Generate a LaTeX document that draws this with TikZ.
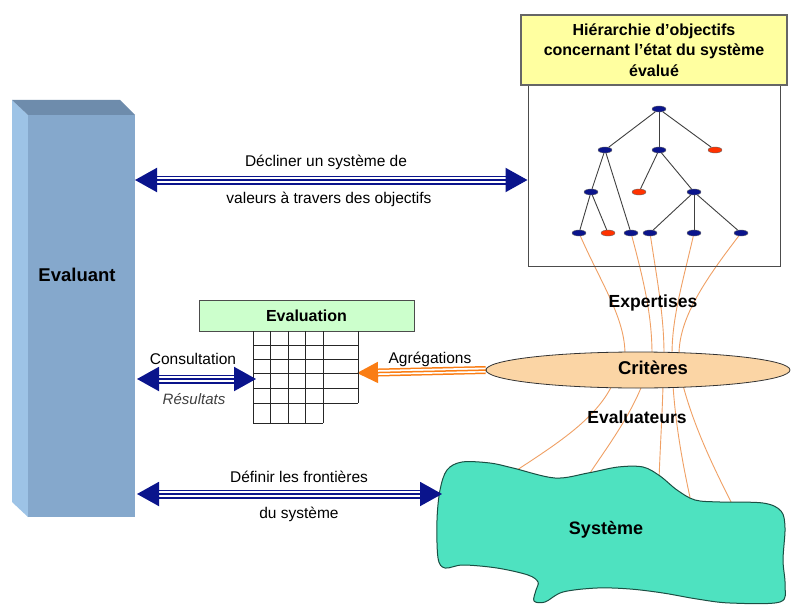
\documentclass[tikz,border=0pt]{standalone}
\usepackage{fontspec}
\setmainfont{Liberation Sans}
\usetikzlibrary{arrows.meta,shapes.geometric}
\pgfdeclarelayer{bglayer}
\pgfdeclarelayer{linelayer}
\pgfsetlayers{bglayer,linelayer,main}
\definecolor{navyb}{RGB}{10,20,140}
\definecolor{redn}{RGB}{255,50,0}
\definecolor{olin}{RGB}{240,160,100}
\definecolor{orgA}{RGB}{250,125,20}
\definecolor{evfrontc}{RGB}{133,168,204}
\definecolor{evleftc}{RGB}{157,195,230}
\definecolor{evtopc}{RGB}{110,140,172}
\definecolor{hdryel}{RGB}{255,255,160}
\definecolor{evgreen}{RGB}{204,255,204}
\definecolor{crpeach}{RGB}{251,213,165}
\definecolor{systc}{RGB}{78,226,192}
\tikzset{
  lbl/.style={font=\fontsize{15.5}{18}\selectfont, inner sep=0},
  blbl/.style={font=\bfseries\fontsize{17.5}{20}\selectfont, inner sep=0},
  tn/.style={ellipse, minimum width=14pt, minimum height=6pt, inner sep=0, fill=navyb, draw=black!60, line width=0.4pt},
  trd/.style={tn, fill=redn},
  tedge/.style={draw=black!75, line width=0.9pt},
  oline/.style={draw=olin, line width=0.9pt},
  nshaftout/.style={draw=navyb, line width=9pt, shorten <=18pt, shorten >=18pt},
  nshaftin/.style={draw=white, line width=6pt, shorten <=18pt, shorten >=18pt},
  narrow/.style={draw=navyb, line width=2pt, {Triangle[length=22pt,width=24pt]}-{Triangle[length=22pt,width=24pt]}},
  oshaftout/.style={draw=orgA, line width=8pt, shorten <=17pt},
  oshaftin/.style={draw=white, line width=5pt, shorten <=17pt},
  oarrow/.style={draw=orgA, line width=1.5pt, {Triangle[length=21pt,width=21pt]}-},
  gridl/.style={draw=black!85, line width=0.8pt},
}
\begin{document}
\begin{tikzpicture}[x=1pt,y=-1pt]
\begin{pgfonlayer}{bglayer}
\fill[white] (0,0) rectangle (791,604);
\end{pgfonlayer}
\useasboundingbox (0,0) rectangle (791,604);

% Evaluant block
\fill[evleftc] (12,100) -- (28,115) -- (28,517) -- (12,502) -- cycle;
\fill[evtopc] (12,100) -- (120,100) -- (135,115) -- (28,115) -- cycle;
\node[fill=evfrontc, minimum width=107pt, minimum height=402pt, inner sep=0, outer sep=0] (ev) at (81.5,316) {};
\node[font=\bfseries\fontsize{18.5}{20}\selectfont, inner sep=0] (evl) at (77,275) {Evaluant};

% hierarchy box
\node[draw=black!70, line width=1pt, minimum width=252pt, minimum height=181pt, inner sep=0] (tree) at (654,175.5) {};
\node[draw=black!60, line width=1.2pt, fill=hdryel, minimum width=266pt, minimum height=70pt, inner sep=0, align=center, font=\bfseries\fontsize{16}{20.5}\selectfont] (hdr) at (654,50) {Hiérarchie d’objectifs\\concernant l’état du système\\évalué};

% tree nodes
\node[tn] (r) at (659,109) {};
\node[tn] (a) at (605,150) {};
\node[tn] (b) at (659,150) {};
\node[trd] (c) at (715,150) {};
\node[tn] (a1) at (591,192) {};
\node[trd] (b1) at (639,192) {};
\node[tn] (b2) at (694,192) {};
\node[tn] (l1) at (579,233) {};
\node[trd] (l2) at (608,233) {};
\node[tn] (l3) at (631,233) {};
\node[tn] (l4) at (650,233) {};
\node[tn] (l5) at (694,233) {};
\node[tn] (l6) at (741,233) {};

% Evaluation table
\node[draw=black!70, line width=1pt, fill=evgreen, minimum width=215pt, minimum height=31pt, inner sep=0, font=\bfseries\fontsize{16}{18}\selectfont] (evh) at (306.5,315.5) {Evaluation};
\foreach \x in {253,270,288,305,323} \draw[gridl] (\x,331) -- (\x,423);
\draw[gridl] (358,331) -- (358,403);
\foreach \y in {345,359,373,388,403} \draw[gridl] (253,\y) -- (358,\y);
\draw[gridl] (253,423) -- (323,423);
\coordinate (gl) at (256,379);
\coordinate (gr) at (357,373);

% Criteres
\node[ellipse, draw=black!80, line width=0.8pt, fill=crpeach, minimum width=304pt, minimum height=36pt, inner sep=0] (cr) at (638,370) {};
\node[blbl, font=\bfseries\fontsize{18.5}{20}\selectfont] (crl) at (653,368) {Critères};

% Systeme
\draw[draw=black!65!systc, line width=1pt, fill=systc] plot[smooth cycle, tension=0.55] coordinates {
 (440,490) (447,470) (462,462) (490,463) (513,468) (555,478) (588,473) (618,467) (643,467) (660,476) (677,490) (695,500) (720,502) (763,503) (781,511) (785,528) (783,560) (785,585) (780,602) (730,603) (697,599) (663,593) (630,589) (597,588) (563,592) (545,602) (534,601) (536,590) (538,582) (528,575) (497,568) (463,565) (445,568) (438,558) (437,520)};
\node[blbl, font=\bfseries\fontsize{18}{20}\selectfont] (sys) at (606,530) {Système};
\coordinate (s1) at (514,472);
\coordinate (s2) at (588,476);
\coordinate (s3) at (659,480);
\coordinate (s4) at (691,502);
\coordinate (s5) at (732,504);
\coordinate (sl) at (442,494);

% labels
\node[blbl] (exp) at (653,303) {Expertises};
\node[blbl] (evr) at (637,417) {Evaluateurs};
\node[lbl] (t1) at (326,162) {Décliner un système de};
\node[lbl] (t2) at (329,199) {valeurs à travers des objectifs};
\node[lbl] (t3) at (193,359) {Consultation};
\node[lbl, font=\itshape\fontsize{15}{18}\selectfont, text=black!75] (t4) at (194,399) {Résultats};
\node[lbl] (t5) at (430,359) {Agrégations};
\node[lbl] (t6) at (299,477) {Définir les frontières};
\node[lbl] (t7) at (299,514) {du système};

\begin{pgfonlayer}{linelayer}
% tree edges
\draw[tedge] (r) -- (a); \draw[tedge] (r) -- (b); \draw[tedge] (r) -- (c);
\draw[tedge] (a) -- (a1); \draw[tedge] (a) -- (l3);
\draw[tedge] (b) -- (b1); \draw[tedge] (b) -- (b2);
\draw[tedge] (a1) -- (l1); \draw[tedge] (a1) -- (l2);
\draw[tedge] (b2) -- (l4); \draw[tedge] (b2) -- (l5); \draw[tedge] (b2) -- (l6);
% expertises lines
\draw[oline] (l1) .. controls (602,285) and (625,318) .. ([xshift=-13pt,yshift=-3pt]cr.north);
\draw[oline] (l3) .. controls (645,285) and (652,318) .. ([xshift=14pt,yshift=-3pt]cr.north);
\draw[oline] (l4) .. controls (658,285) and (664,318) .. ([xshift=26pt,yshift=-3pt]cr.north);
\draw[oline] (l5) .. controls (682,285) and (672,318) .. ([xshift=34pt,yshift=-3pt]cr.north);
\draw[oline] (l6) .. controls (705,280) and (679,318) .. ([xshift=41pt,yshift=-3pt]cr.north);
% evaluateurs lines
\draw[oline] ([xshift=-26pt,yshift=3pt]cr.south) .. controls (595,420) and (555,445) .. (s1);
\draw[oline] ([xshift=4pt,yshift=3pt]cr.south) .. controls (628,420) and (605,450) .. (s2);
\draw[oline] ([xshift=25pt,yshift=3pt]cr.south) .. controls (662,420) and (660,450) .. (s3);
\draw[oline] ([xshift=35pt,yshift=3pt]cr.south) .. controls (676,430) and (684,470) .. (s4);
\draw[oline] ([xshift=45pt,yshift=3pt]cr.south) .. controls (695,430) and (715,470) .. (s5);
% aggregations arrow
\draw[oshaftout] (gr) -- (cr.west);
\draw[oshaftin] (gr) -- (cr.west);
\draw[oarrow] (gr) -- ([xshift=4pt]cr.west);
\end{pgfonlayer}

% navy arrows
\draw[nshaftout] (ev.east |- 0,180) -- (tree.west |- 0,180);
\draw[nshaftin] (ev.east |- 0,180) -- (tree.west |- 0,180);
\draw[narrow] (ev.east |- 0,180) -- (tree.west |- 0,180);

\draw[nshaftout] ([xshift=2pt]ev.east |- gl) -- (gl);
\draw[nshaftin] ([xshift=2pt]ev.east |- gl) -- (gl);
\draw[narrow] ([xshift=2pt]ev.east |- gl) -- (gl);

\draw[nshaftout] ([xshift=2pt]ev.east |- sl) -- (sl);
\draw[nshaftin] ([xshift=2pt]ev.east |- sl) -- (sl);
\draw[narrow] ([xshift=2pt]ev.east |- sl) -- (sl);
\end{tikzpicture}
\end{document}
